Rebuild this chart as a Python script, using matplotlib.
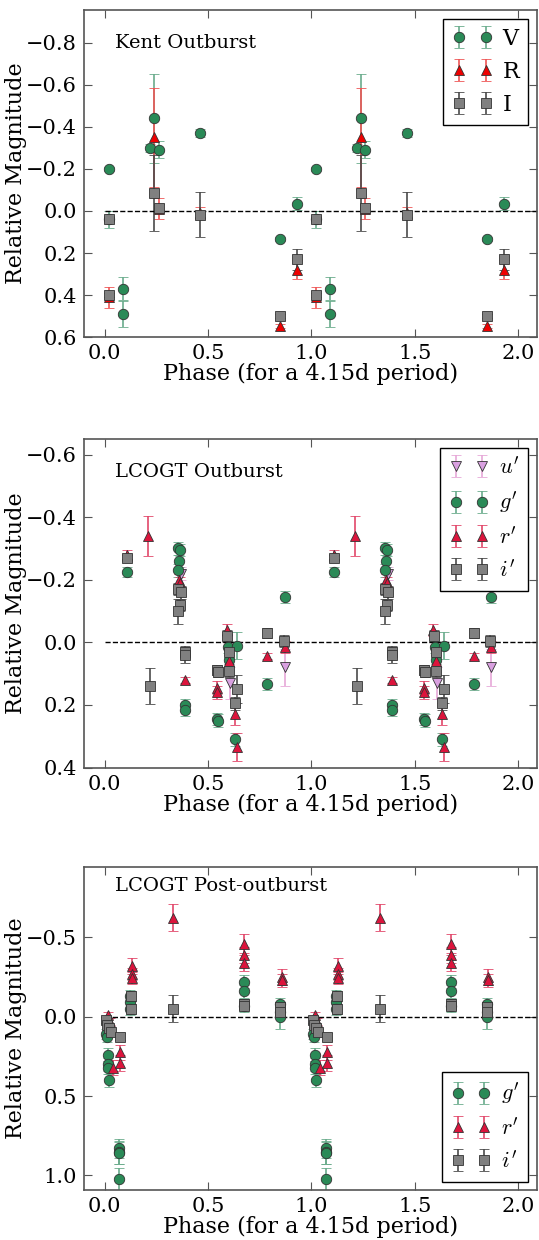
import matplotlib
matplotlib.use("Agg")
from matplotlib import pyplot as plt
import numpy as np

# Kent outburst (phase 0-1, plotted twice)
kent_V_phase = [0.02, 0.02, 0.09, 0.09, 0.22, 0.24, 0.26, 0.46, 0.85, 0.93]
kent_V_mag = [-0.20, 0.04, 0.37, 0.49, -0.30, -0.44, -0.29, -0.37, 0.135, -0.035]
kent_V_err = [0.01, 0.04, 0.055, 0.06, 0.02, 0.21, 0.04, 0.02, 0.01, 0.03]

kent_R_phase = [0.02, 0.24, 0.26, 0.46, 0.85, 0.93]
kent_R_mag = [0.41, -0.35, -0.01, 0.01, 0.545, 0.28]
kent_R_err = [0.05, 0.235, 0.05, 0.03, 0.01, 0.045]

kent_I_phase = [0.02, 0.02, 0.24, 0.26, 0.46, 0.85, 0.93]
kent_I_mag = [0.04, 0.40, -0.085, -0.015, 0.017, 0.50, 0.23]
kent_I_err = [0.01, 0.01, 0.18, 0.02, 0.107, 0.01, 0.05]

# LCOGT outburst
out_u_phase = [0.37, 0.605, 0.87]
out_u_mag = [-0.22, 0.13, 0.08]
out_u_err = [0.02, 0.05, 0.06]

out_g_phase = [0.11, 0.355, 0.365, 0.36, 0.355, 0.39, 0.39, 0.545, 0.55, 0.595, 0.60, 0.64, 0.63, 0.785, 0.87]
out_g_mag = [-0.225, -0.30, -0.295, -0.26, -0.23, 0.20, 0.215, 0.245, 0.25, 0.015, 0.055, 0.01, 0.31, 0.133, -0.145]
out_g_err = [0.015, 0.02, 0.02, 0.02, 0.02, 0.02, 0.02, 0.02, 0.02, 0.02, 0.02, 0.042, 0.02, 0.02, 0.02]

out_r_phase = [0.11, 0.21, 0.36, 0.365, 0.39, 0.545, 0.545, 0.59, 0.60, 0.63, 0.64, 0.785, 0.87]
out_r_mag = [-0.28, -0.34, -0.20, -0.19, 0.12, 0.145, 0.16, -0.04, 0.06, 0.23, 0.335, 0.043, 0.015]
out_r_err = [0.015, 0.065, 0.02, 0.02, 0.01, 0.02, 0.02, 0.02, 0.02, 0.035, 0.044, 0.01, 0.02]

out_i_phase = [0.11, 0.22, 0.355, 0.37, 0.363, 0.355, 0.39, 0.39, 0.544, 0.548, 0.592, 0.60, 0.60, 0.64, 0.63, 0.785, 0.865]
out_i_mag = [-0.27, 0.14, -0.17, -0.16, -0.12, -0.10, 0.03, 0.04, 0.088, 0.095, -0.02, 0.03, 0.09, 0.15, 0.195, -0.03, -0.005]
out_i_err = [0.01, 0.058, 0.02, 0.02, 0.02, 0.04, 0.02, 0.025, 0.015, 0.015, 0.02, 0.02, 0.02, 0.045, 0.02, 0.015, 0.02]

# LCOGT post-outburst
post_g_phase = [0.005, 0.01, 0.015, 0.015, 0.015, 0.02, 0.07, 0.07, 0.07, 0.07, 0.12, 0.12, 0.12, 0.675, 0.675, 0.675, 0.85, 0.85, 0.85]
post_g_mag = [0.11, 0.13, 0.24, 0.30, 0.32, 0.40, 0.83, 0.855, 0.86, 1.025, -0.13, -0.09, -0.05, -0.22, -0.16, -0.07, -0.08, -0.03, 0.0]
post_g_err = [0.03, 0.03, 0.04, 0.04, 0.04, 0.04, 0.06, 0.07, 0.07, 0.07, 0.04, 0.04, 0.04, 0.04, 0.04, 0.04, 0.04, 0.04, 0.075]

post_r_phase = [0.015, 0.025, 0.04, 0.075, 0.075, 0.13, 0.13, 0.13, 0.33, 0.675, 0.675, 0.675, 0.855, 0.855]
post_r_mag = [-0.01, 0.03, 0.32, 0.225, 0.29, -0.32, -0.27, -0.245, -0.625, -0.46, -0.39, -0.34, -0.25, -0.23]
post_r_err = [0.02, 0.02, 0.05, 0.05, 0.05, 0.05, 0.04, 0.04, 0.085, 0.06, 0.05, 0.05, 0.05, 0.04]

post_i_phase = [0.005, 0.01, 0.02, 0.03, 0.075, 0.125, 0.125, 0.33, 0.675, 0.675, 0.85, 0.85]
post_i_mag = [0.02, 0.05, 0.07, 0.095, 0.125, -0.13, -0.05, -0.05, -0.08, -0.07, -0.06, -0.03]
post_i_err = [0.02, 0.02, 0.02, 0.02, 0.02, 0.03, 0.03, 0.085, 0.03, 0.03, 0.03, 0.03]

green = '#2a8a57'
green_e = '#6aac8c'
red = '#ee0000'
red_e = '#ee5555'
crimson = '#dc143c'
crimson_e = '#e2476a'
plum = '#d9a0e0'
plum_e = '#e6a8d8'
gray = '#808080'
gray_e = '#4a4a4a'

plt.rcParams['font.family'] = 'DejaVu Serif'
plt.rcParams['mathtext.fontset'] = 'cm'
plt.rcParams['font.size'] = 16


def serie(ax, phase, mag, err, marker, color, ecolor, label):
    ph = np.array(phase)
    x = np.concatenate([ph, ph + 1])
    y = np.concatenate([mag, mag])
    e = np.concatenate([err, err])
    ax.errorbar(x, y, yerr=e, fmt=marker, color=color, ecolor=ecolor, markersize=7.5,
                markeredgecolor='#333333', markeredgewidth=0.6, capsize=3.5,
                elinewidth=1.2, capthick=1, label=label)


def wyglad(ax, ylim, yticks, title, title_y):
    ax.plot([0, 2.3], [0, 0], 'k--', linewidth=1)
    ax.set_xlim(-0.1, 2.09)
    ax.set_ylim(*ylim)
    ax.set_xticks([0.0, 0.5, 1.0, 1.5, 2.0])
    ax.set_yticks(yticks)
    ax.tick_params(direction='in', length=6, top=True, right=True, color='#555555',
                   pad=5, labelsize=15)
    for s in ax.spines.values():
        s.set_color('#555555')
        s.set_linewidth(1.2)
    ax.set_xlabel('Phase (for a 4.15d period)', labelpad=0)
    ax.set_ylabel('Relative Magnitude')
    ax.yaxis.set_label_coords(-0.125, 0.5)
    ax.text(0.068, title_y, title, transform=ax.transAxes, va='center', fontsize=14)


fig = plt.figure(figsize=(5.39, 12.4), dpi=100)
ax1 = fig.add_axes([0.156, 0.728, 0.84, 0.264])
ax2 = fig.add_axes([0.156, 0.381, 0.84, 0.265])
ax3 = fig.add_axes([0.156, 0.040, 0.84, 0.261])

serie(ax1, kent_V_phase, kent_V_mag, kent_V_err, 'o', green, green_e, 'V')
serie(ax1, kent_R_phase, kent_R_mag, kent_R_err, '^', red, red_e, 'R')
serie(ax1, kent_I_phase, kent_I_mag, kent_I_err, 's', gray, gray_e, 'I')
wyglad(ax1, (0.6, -0.955), [-0.8, -0.6, -0.4, -0.2, 0.0, 0.2, 0.4, 0.6], 'Kent Outburst', 0.9)

serie(ax2, out_u_phase, out_u_mag, out_u_err, 'v', plum, plum_e, "$u'$")
serie(ax2, out_g_phase, out_g_mag, out_g_err, 'o', green, green_e, "$g'$")
serie(ax2, out_r_phase, out_r_mag, out_r_err, '^', crimson, crimson_e, "$r'$")
serie(ax2, out_i_phase, out_i_mag, out_i_err, 's', gray, gray_e, "$i'$")
wyglad(ax2, (0.4, -0.65), [-0.6, -0.4, -0.2, 0.0, 0.2, 0.4], 'LCOGT Outburst', 0.9)

serie(ax3, post_g_phase, post_g_mag, post_g_err, 'o', green, green_e, "$g'$")
serie(ax3, post_r_phase, post_r_mag, post_r_err, '^', crimson, crimson_e, "$r'$")
serie(ax3, post_i_phase, post_i_mag, post_i_err, 's', gray, gray_e, "$i'$")
wyglad(ax3, (1.094, -0.945), [-0.5, 0.0, 0.5, 1.0], 'LCOGT Post-outburst', 0.94)

for ax, loc in [(ax1, 'upper right'), (ax2, 'upper right'), (ax3, 'lower right')]:
    leg = ax.legend(loc=loc, numpoints=2, fancybox=False, framealpha=1,
                    edgecolor='black', borderaxespad=0.4, labelspacing=0.5,
                    handlelength=1.8, handletextpad=0.45, borderpad=0.4)
    leg.get_frame().set_linewidth(1.0)

fig.savefig('out.png', dpi=100, facecolor='white')
